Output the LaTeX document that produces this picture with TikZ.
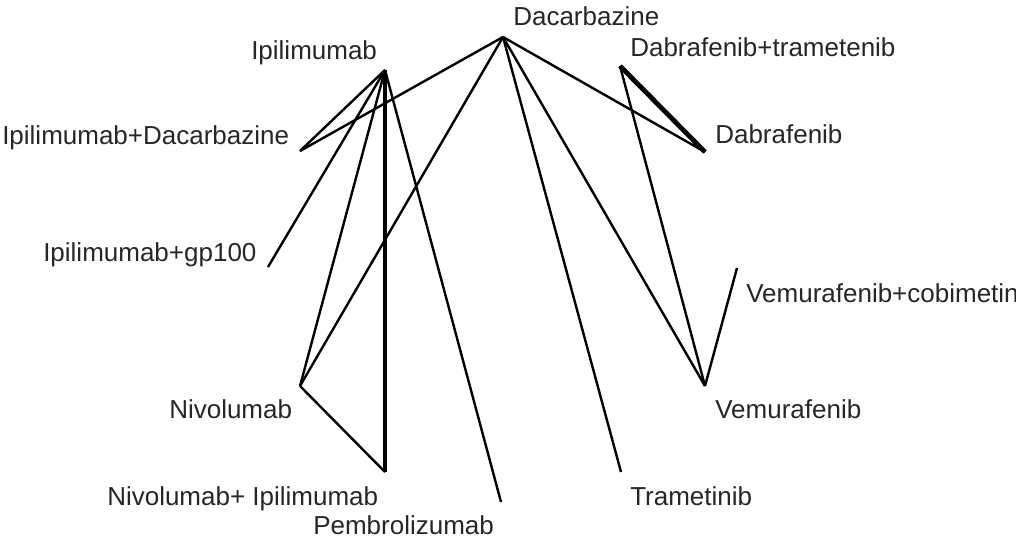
\documentclass[tikz,border=0pt]{standalone}
\usepackage{fontspec}
\setmainfont{Liberation Sans}
\usetikzlibrary{positioning}

\begin{document}
\begin{tikzpicture}[x=.75pt,y=-.75pt,
  lbl/.style={anchor=base west,inner sep=0pt,font=\fontsize{19.5}{22}\selectfont,text=black!85},
  edge/.style={line width=1.8pt},
  heavy/.style={line width=3.6pt}]
\useasboundingbox (0,0) rectangle (1016,538);
%treatment points
\coordinate (dac) at (503,37);
\coordinate (ipi) at (385,70);
\coordinate (ipidac) at (300,151);
\coordinate (ipigp) at (268,267);
\coordinate (nivo) at (300,386);
\coordinate (nivoipi) at (385,472);
\coordinate (pembro) at (501,502);
\coordinate (tram) at (621,472);
\coordinate (vem) at (705,386);
\coordinate (vemcob) at (737,268);
\coordinate (dabtram) at (620,66);
\coordinate (dab) at (705,152);
%labels
\node[lbl] (dacl) at (513,26) {Dacarbazine};
\node[lbl] (ipil) at (251,60) {Ipilimumab};
\node[lbl] (ipidacl) at (2,145) {Ipilimumab+Dacarbazine};
\node[lbl] (ipigpl) at (43,262) {Ipilimumab+gp100};
\node[lbl] (nivol) at (169,418) {Nivolumab};
\node[lbl] (nivoipil) at (107,505) {Nivolumab+ Ipilimumab};
\node[lbl] (pembrol) at (313,534) {Pembrolizumab};
\node[lbl] (traml) at (630,505) {Trametinib};
\node[lbl] (veml) at (715,418) {Vemurafenib};
\node[lbl] (vemcobl) at (746,302) {Vemurafenib+cobimetinib};
\node[lbl] (dabtraml) at (630,57) {Dabrafenib+trametenib};
\node[lbl] (dabl) at (715,144) {Dabrafenib};
%comparisons from dacarbazine
\draw[edge] (dac) -- (ipidac);
\draw[edge] (dac) -- (nivo);
\draw[edge] (dac) -- (tram);
\draw[edge] (dac) -- (vem);
\draw[edge] (dac) -- (dab);
%comparisons from ipilimumab
\draw[edge] (ipi) -- (ipidac);
\draw[edge] (ipi) -- (ipigp);
\draw[edge] (ipi) -- (nivo);
\draw[edge] (ipi) -- (pembro);
\draw[heavy] (ipi) -- (nivoipi);
%others
\draw[edge] (nivo) -- (nivoipi);
\draw[heavy] (dabtram) -- (dab);
\draw[edge] (dabtram) -- (vem);
\draw[edge] (vemcob) -- (vem);
\end{tikzpicture}
\end{document}
